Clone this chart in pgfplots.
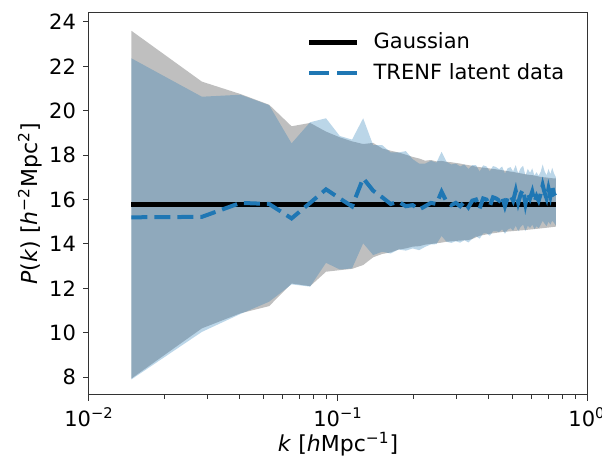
\documentclass[border=0pt]{standalone}
\usepackage{fontspec}
\setmainfont{DejaVu Sans}
\usepackage{pgfplots}
\usepackage{pgfplotstable}
\pgfplotsset{compat=1.18}
\usepgfplotslibrary{fillbetween}
\definecolor{tabblue}{RGB}{31,119,180}
\pgfplotstableread{
k gU gL bU bL m
0.0148 23.60 7.94 22.36 7.90 15.20
0.0284 21.31 10.20 20.63 10.04 15.22
0.0406 20.75 10.88 20.72 10.85 15.85
0.0529 20.27 11.20 20.25 11.40 15.80
0.0651 19.30 12.22 18.53 12.18 15.15
0.0773 19.45 12.10 19.48 12.08 15.85
0.0895 19.06 12.75 19.66 13.15 16.46
0.1017 18.80 12.82 18.86 12.85 16.05
0.1139 18.62 12.88 18.70 12.90 15.69
0.1262 18.50 13.05 19.66 14.03 16.96
0.1384 18.55 13.40 18.45 13.50 16.40
0.1506 18.30 13.55 18.45 13.65 16.10
0.1628 18.20 13.62 18.12 13.57 15.80
0.1750 18.12 13.75 18.12 13.75 15.90
0.1873 18.02 13.80 18.18 13.70 15.70
0.1995 17.92 13.88 17.82 13.80 15.75
0.2117 17.85 13.90 17.62 13.72 15.55
0.2239 17.75 13.97 17.62 13.87 15.70
0.2361 17.78 14.00 17.75 13.98 15.85
0.2484 17.72 14.03 17.66 13.99 15.80
0.2606 17.74 14.06 18.15 14.36 16.35
0.2728 17.70 14.10 17.70 14.10 15.90
0.2850 17.68 14.12 17.58 14.05 15.75
0.2972 17.65 14.14 17.62 14.12 15.85
0.3095 17.62 14.15 17.49 14.06 15.70
0.3217 17.58 14.17 17.58 14.17 15.90
0.3339 17.55 14.18 17.38 14.07 15.65
0.3461 17.52 14.22 17.55 14.24 15.95
0.3583 17.48 14.30 17.55 14.35 16.00
0.3706 17.46 14.37 17.26 14.24 15.60
0.3828 17.44 14.40 17.54 14.47 16.05
0.3950 17.42 14.43 17.49 14.48 16.00
0.4072 17.40 14.46 17.27 14.37 15.70
0.4194 17.38 14.48 17.51 14.57 16.10
0.4317 17.36 14.50 17.46 14.57 16.05
0.4439 17.34 14.52 17.37 14.54 15.95
0.4561 17.32 14.54 17.49 14.66 16.15
0.4683 17.30 14.55 17.17 14.46 15.70
0.4805 17.28 14.56 17.41 14.65 16.10
0.4928 17.26 14.57 17.46 14.71 16.20
0.5050 17.24 14.58 17.27 14.60 15.95
0.5172 17.22 14.59 17.55 14.82 16.40
0.5294 17.20 14.60 17.17 14.58 15.85
0.5416 17.18 14.61 17.41 14.77 16.25
0.5539 17.16 14.62 17.52 14.87 16.45
0.5661 17.14 14.63 17.07 14.58 15.80
0.5783 17.12 14.64 17.38 14.82 16.30
0.5905 17.11 14.65 17.21 14.72 16.05
0.6027 17.10 14.66 17.40 14.87 16.35
0.6150 17.08 14.67 17.08 14.67 15.90
0.6272 17.06 14.68 17.23 14.80 16.15
0.6394 17.04 14.69 17.07 14.71 15.95
0.6516 17.02 14.70 17.25 14.86 16.25
0.6638 17.01 14.71 17.58 15.04 16.65
0.6761 17.00 14.72 17.26 14.91 16.30
0.6883 16.99 14.73 17.09 14.80 16.05
0.7005 16.98 14.74 17.38 15.01 16.50
0.7127 16.97 14.75 17.14 14.87 16.15
0.7249 16.96 14.76 17.43 15.05 16.60
0.7372 16.95 14.77 17.18 14.95 16.25
0.7494 16.95 14.78 17.02 14.84 16.30
}\data

\begin{document}
\begin{tikzpicture}
\begin{axis}[
  name=ax,
  scale only axis, width=249pt, height=191pt,
  xmode=log, xmin=0.01, xmax=1, ymin=7.2, ymax=24.4,
  xtick={0.01,0.1,1},
  xticklabels={10\textsuperscript{−2},10\textsuperscript{−1},10\textsuperscript{0}},
  minor xtick={0.02,0.03,0.04,0.05,0.06,0.07,0.08,0.09,0.2,0.3,0.4,0.5,0.6,0.7,0.8,0.9},
  ytick={8,10,...,24},
  tick align=outside, xtick pos=bottom, ytick pos=left,
  major tick length=3pt, minor tick length=1.8pt,
  tick style={black!80, line width=0.5pt},
  minor tick style={black!80, line width=0.4pt},
  axis line style={black!80, line width=0.5pt},
  ticklabel style={font=\fontsize{10.5}{12}\selectfont},
  yticklabel style={/pgf/number format/assume math mode=true},
  label style={font=\fontsize{11}{13}\selectfont},
  xlabel={\textit{k} [\textit{h}Mpc\textsuperscript{−1}]},
  ylabel={\textit{P}(\textit{k}) [\textit{h}\textsuperscript{−2}Mpc\textsuperscript{2}]},
  xlabel style={at={(axis description cs:0.5,-0.128)}, anchor=center},
  ylabel style={at={(axis description cs:-0.1185,0.5)}, anchor=center, rotate=0},
  legend style={at={(0.975,0.975)}, anchor=north east, draw=none, fill=white,
    font=\fontsize{10.5}{12}\selectfont, row sep=2pt, inner sep=3pt},
  legend cell align=left,
  legend image code/.code={\draw[#1] (0pt,0pt) -- (24pt,0pt);},
]
\addplot[name path=gu, draw=none, forget plot] table[x=k,y=gU]{\data};
\addplot[name path=gl, draw=none, forget plot] table[x=k,y=gL]{\data};
\addplot[fill=gray, fill opacity=0.5, draw=none, forget plot] fill between[of=gu and gl];
\addplot[name path=bu, draw=none, forget plot] table[x=k,y=bU]{\data};
\addplot[name path=bl, draw=none, forget plot] table[x=k,y=bL]{\data};
\addplot[fill=tabblue, fill opacity=0.3, draw=none, forget plot] fill between[of=bu and bl];
\addplot[black, line width=2.2pt] coordinates {(0.0148,15.78) (0.7494,15.78)};
\addlegendentry{\hspace{5pt}Gaussian}
\addplot[tabblue, line width=2pt, dash pattern=on 8pt off 3.5pt,
  legend image post style={dash pattern=on 10pt off 4pt}] table[x=k,y=m]{\data};
\addlegendentry{\hspace{5pt}TRENF latent data}
\end{axis}
\pgfresetboundingbox
\path ([xshift=-44.5pt,yshift=-34.5pt]ax.south west) rectangle ([xshift=7.5pt,yshift=6.5pt]ax.north east);
\end{tikzpicture}
\end{document}
